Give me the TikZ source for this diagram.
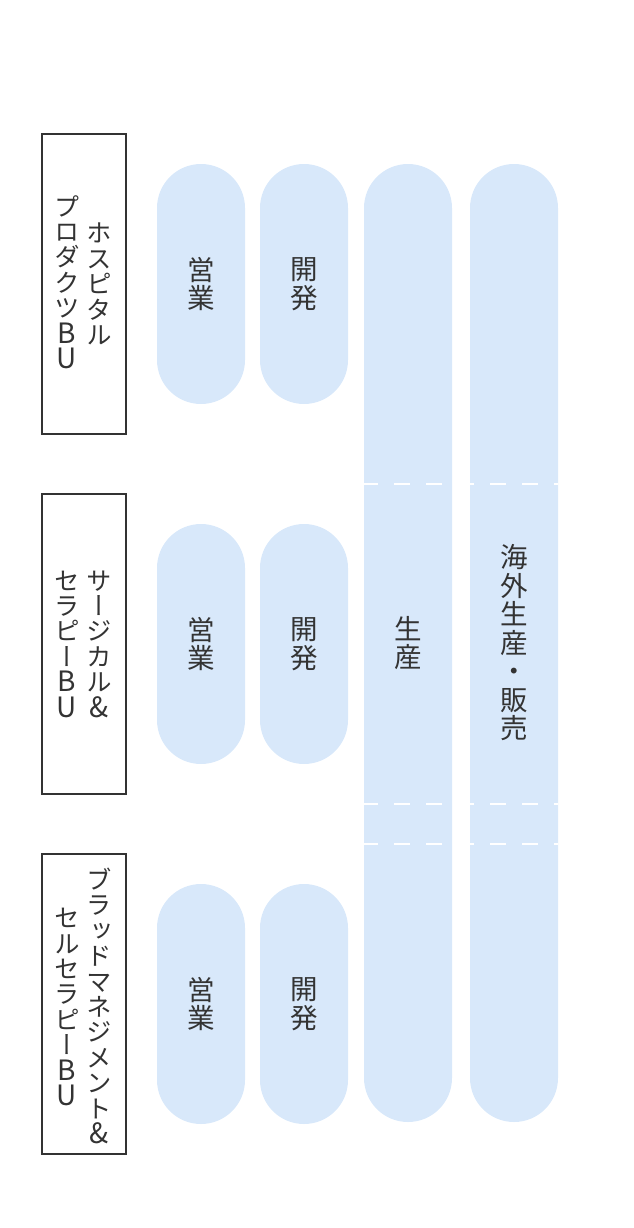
\documentclass[tikz,border=0pt]{standalone}
\usepackage{fontspec}
\newfontfamily\jp{Noto Sans CJK JP}[RawFeature={+vert}]
\definecolor{txt}{HTML}{333333}
\definecolor{pillc}{HTML}{D8E8FA}
\newcommand\latn[1]{{\fontsize{28}{25.4}\selectfont #1}}
\tikzset{
  bu/.style={draw=txt, line width=1.5pt, minimum width=84pt, minimum height=300pt, inner sep=0pt},
  col/.style={font=\jp\fontsize{25.5}{25.4}\selectfont, text=txt, align=center, inner sep=0pt},
  pill/.style={fill=pillc, rounded corners=44pt, minimum width=88pt, inner sep=0pt,
    font=\jp\fontsize{27.5}{28.5}\selectfont, text=txt, align=center},
  sep/.style={draw=white, line width=2pt, dash pattern=on 16pt off 16pt, dash phase=2pt}
}
\begin{document}
\begin{tikzpicture}[x=1pt,y=-1pt]
\useasboundingbox (0,0) rectangle (634,1228);
% BU boxes
\node[bu] (b1) at (84,284) {};
\node[bu] (b2) at (84,644) {};
\node[bu] (b3) at (84,1004) {};
\node[col] (b1r) at (99,284) {ホ\\ス\\ピ\\タ\\ル};
\node[col] (b1l) at (67,282) {プ\\ロ\\ダ\\ク\\ツ\\\latn{B}\\\latn{U}};
\node[col] (b2r) at (99,644) {サ\\ー\\ジ\\カ\\ル\\\latn{\&}};
\node[col] (b2l) at (67,644) {セ\\ラ\\ピ\\ー\\\latn{B}\\\latn{U}};
\node[col] (b3r) at (99,1006) {ブ\\ラ\\ッ\\ド\\マ\\ネ\\ジ\\メ\\ン\\ト\\\latn{\&}};
\node[col] (b3l) at (67,1007) {セ\\ル\\セ\\ラ\\ピ\\ー\\\latn{B}\\\latn{U}};
% pills
\node[pill, minimum height=240pt] (s1) at (201,284) {営\\業};
\node[pill, minimum height=240pt] (d1) at (304,284) {開\\発};
\node[pill, minimum height=240pt] (s2) at (201,644) {営\\業};
\node[pill, minimum height=240pt] (d2) at (304,644) {開\\発};
\node[pill, minimum height=240pt] (s3) at (201,1004) {営\\業};
\node[pill, minimum height=240pt] (d3) at (304,1004) {開\\発};
\node[pill, minimum height=958pt] (pr) at (408,643) {生\\産};
\node[pill, minimum height=958pt] (ov) at (514,643) {海\\外\\生\\産\\・\\販\\売};
% dashed separators
\coordinate (y1) at (0,484);
\coordinate (y2) at (0,804);
\coordinate (y3) at (0,844);
\draw[sep] (pr.west |- y1) -- (ov.east |- y1);
\draw[sep] (pr.west |- y2) -- (ov.east |- y2);
\draw[sep] (pr.west |- y3) -- (ov.east |- y3);
\end{tikzpicture}
\end{document}
